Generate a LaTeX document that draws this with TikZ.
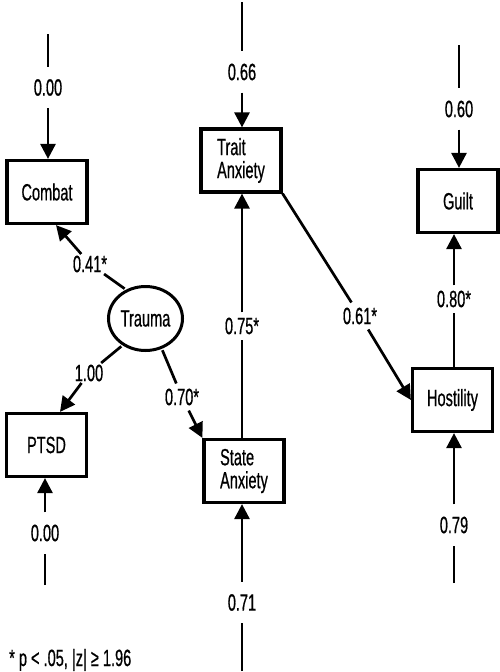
\documentclass[tikz,border=0pt]{standalone}
\usepackage{fontspec}
\setmainfont{Liberation Sans}[FakeStretch=0.62, FakeBold=0.6]
\usetikzlibrary{arrows.meta,shapes.geometric}
\begin{document}
\begin{tikzpicture}[x=1pt,y=-1pt,
  font=\fontsize{23.5}{23}\selectfont,
  var/.style={draw, line width=3.2pt, minimum width=80pt, minimum height=63pt,
              inner sep=0pt, align=left},
  latent/.style={draw, ellipse, line width=3pt, minimum width=74pt,
                 minimum height=64pt, inner sep=0pt, outer sep=3pt},
  lab/.style={inner xsep=2pt, inner ysep=12pt},
  coef/.style={inner sep=5pt},
  conn/.style={line width=2.7pt},
  arr/.style={conn, -{Triangle[length=15pt,width=15pt]}},
]
\useasboundingbox (0,0) rectangle (500,672);

% observed variables and the latent factor
\node[var] (combat) at (47,192) {Combat};
\node[var] (ptsd) at (46.5,445) {PTSD};
\node[var] (trait) at (241,160.5) {Trait\\Anxiety};
\node[var] (state) at (244,471) {State\\Anxiety};
\node[var] (guilt) at (458,201) {Guilt};
\node[var] (host) at (452.5,400) {Hostility};
\node[latent] (trauma) at (145.5,318.5) {Trauma};

% residual (error) terms
\node[lab] (ec) at (48,87.5) {0.00};
\coordinate (ect) at (48,34);
\draw[conn] (ect) -- (ec);
\draw[arr] (ec) -- (ec |- combat.north);

\node[lab] (et) at (242,72) {0.66};
\coordinate (ett) at (242,2);
\draw[conn] (ett) -- (et);
\draw[arr] (et) -- (et |- trait.north);

\node[lab] (eg) at (459,109) {0.60};
\coordinate (egt) at (459,45);
\draw[conn] (egt) -- (eg);
\draw[arr] (eg) -- (eg |- guilt.north);

\node[lab] (ep) at (45,533) {0.00};
\coordinate (epb) at (45,585);
\draw[conn] (epb) -- (ep);
\draw[arr] (ep) -- (ep |- ptsd.south);

\node[lab] (es) at (242,602.5) {0.71};
\coordinate (esb) at (242,671);
\draw[conn] (esb) -- (es);
\draw[arr] (es) -- (es |- state.south);

\node[lab] (eh) at (454,525) {0.79};
\coordinate (ehb) at (454,583);
\draw[conn] (ehb) -- (eh);
\draw[arr] (eh) -- (eh |- host.south);

% structural paths
\node[coef, inner sep=1.5pt] (c041) at (90,264) {0.41*};
\draw[conn] (trauma.125) -- (c041);
\draw[arr] (c041) -- ([xshift=9pt]combat.south);

\node[coef, inner sep=1.5pt] (c100) at (89,373) {1.00};
\draw[conn] (trauma.229) -- (c100);
\draw[arr] (c100) -- ([xshift=13.5pt]ptsd.north);

\node[coef] (c070) at (182,397) {0.70*};
\draw[conn] (trauma.298) -- (c070);
\draw[arr] (c070) -- (state.north west);

\node[coef] (c075) at (242,326) {0.75*};
\draw[conn] (c075 |- state.north) -- (c075);
\draw[arr] (c075) -- (c075 |- trait.south);

\node[coef] (c061) at (360,316) {0.61*};
\draw[conn] (trait.south east) -- (c061);
\draw[arr] (c061) -- (host.west);

\node[coef] (c080) at (454,299) {0.80*};
\draw[conn] (c080 |- host.north) -- (c080);
\draw[arr] (c080) -- (c080 |- guilt.south);

% significance note
\node[anchor=base west, inner sep=0pt] (note) at (9,666) {* p < .05, |z| ≥ 1.96};
\end{tikzpicture}
\end{document}
